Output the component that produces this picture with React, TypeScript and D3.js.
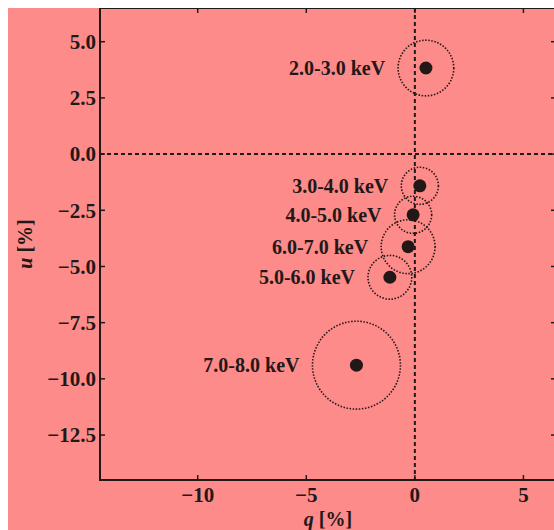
import React from "react";
import * as d3 from "d3";

const bands = ["2.0-3.0 keV", "3.0-4.0 keV", "4.0-5.0 keV", "6.0-7.0 keV", "5.0-6.0 keV", "7.0-8.0 keV"];
const qValues = [0.51, 0.23, -0.08, -0.31, -1.15, -2.69];
const uValues = [3.83, -1.41, -2.7, -4.12, -5.48, -9.39];
const errRadius = [1.26, 0.84, 0.84, 1.22, 0.99, 1.99];
const xTicks = [-10, -5, 0, 5];
const yTicks = [-12.5, -10, -7.5, -5, -2.5, 0, 2.5, 5];

const W = 546;
const H = 522;
const FONT = "'Liberation Serif', 'Times New Roman', serif";
const INK = "#231818";

export default function App() {
  const x = d3.scaleLinear().domain([-14.5, 6.5]).range([92, 548]);
  const y = d3.scaleLinear().domain([-14.5, 6.5]).range([472, 0]);
  const [x0, x1] = x.range();
  const [y0, y1] = y.range();
  const pxPerUnit = (x(1) - x(0) + (y(0) - y(1))) / 2;
  const fmtY = (v: number) => d3.format(".1f")(v).replace("-", "\u2212");
  const fmtX = (v: number) => d3.format("d")(v).replace("-", "\u2212");
  const data = bands.map((b, i) => ({ b, q: qValues[i], u: uValues[i], r: errRadius[i] }));

  return (
    <div style={{ position: "fixed", left: 8, top: 8, width: W, height: H, overflow: "hidden" }}>
      <svg width={W} height={H} style={{ display: "block" }}>
        <rect x={0} y={0} width={W} height={H} fill="#FD8B89" />
        {/* zero lines */}
        <line x1={x(0)} x2={x(0)} y1={y1} y2={y0} stroke={INK} strokeWidth={2} strokeDasharray="4,3" />
        <line x1={x0} x2={x1} y1={y(0)} y2={y(0)} stroke={INK} strokeWidth={2} strokeDasharray="4,3" />
        {/* error circles */}
        {data.map((d) => (
          <circle key={"c" + d.b} cx={x(d.q)} cy={y(d.u)} r={d.r * pxPerUnit} fill="none" stroke={INK}
            strokeWidth={1.6} strokeDasharray="1.5,1.6" />
        ))}
        {data.map((d) => (
          <circle key={"p" + d.b} cx={x(d.q)} cy={y(d.u)} r={6.5} fill={INK} />
        ))}
        {data.map((d) => (
          <text key={"t" + d.b} x={x(d.q) - d.r * pxPerUnit - 13} y={y(d.u)} dy="0.35em" textAnchor="end"
            fontFamily={FONT} fontWeight="bold" fontSize={20} fill={INK}>{d.b}</text>
        ))}
        {/* frame */}
        <rect x={x0} y={y1} width={x1 - x0} height={y0 - y1} fill="none" stroke={INK} strokeWidth={2} />
        {xTicks.map((t) => (
          <g key={"xt" + t}>
            <line x1={x(t)} x2={x(t)} y1={y0} y2={y0 - 5} stroke={INK} strokeWidth={1.5} />
            <line x1={x(t)} x2={x(t)} y1={y1} y2={y1 + 5} stroke={INK} strokeWidth={1.5} />
            <text x={x(t)} y={y0 + 22} textAnchor="middle" fontFamily={FONT} fontWeight="bold" fontSize={21} fill={INK}>{fmtX(t)}</text>
          </g>
        ))}
        {yTicks.map((t) => (
          <g key={"yt" + t}>
            <line x1={x0} x2={x0 + 5} y1={y(t)} y2={y(t)} stroke={INK} strokeWidth={1.5} />
            <line x1={x1} x2={x1 - 5} y1={y(t)} y2={y(t)} stroke={INK} strokeWidth={1.5} />
            <text x={x0 - 4} y={y(t)} dy="0.35em" textAnchor="end" fontFamily={FONT} fontWeight="bold" fontSize={21} fill={INK}>{fmtY(t)}</text>
          </g>
        ))}
        <text x={(x0 + x1) / 2} y={y0 + 46} textAnchor="middle" fontFamily={FONT} fontWeight="bold" fontSize={20} fill={INK}>
          <tspan fontStyle="italic">q</tspan> [%]
        </text>
        <text transform={`translate(${24}, ${(y0 + y1) / 2}) rotate(-90)`} textAnchor="middle" fontFamily={FONT}
          fontWeight="bold" fontSize={20} fill={INK}>
          <tspan fontStyle="italic">u</tspan> [%]
        </text>
      </svg>
    </div>
  );
}
